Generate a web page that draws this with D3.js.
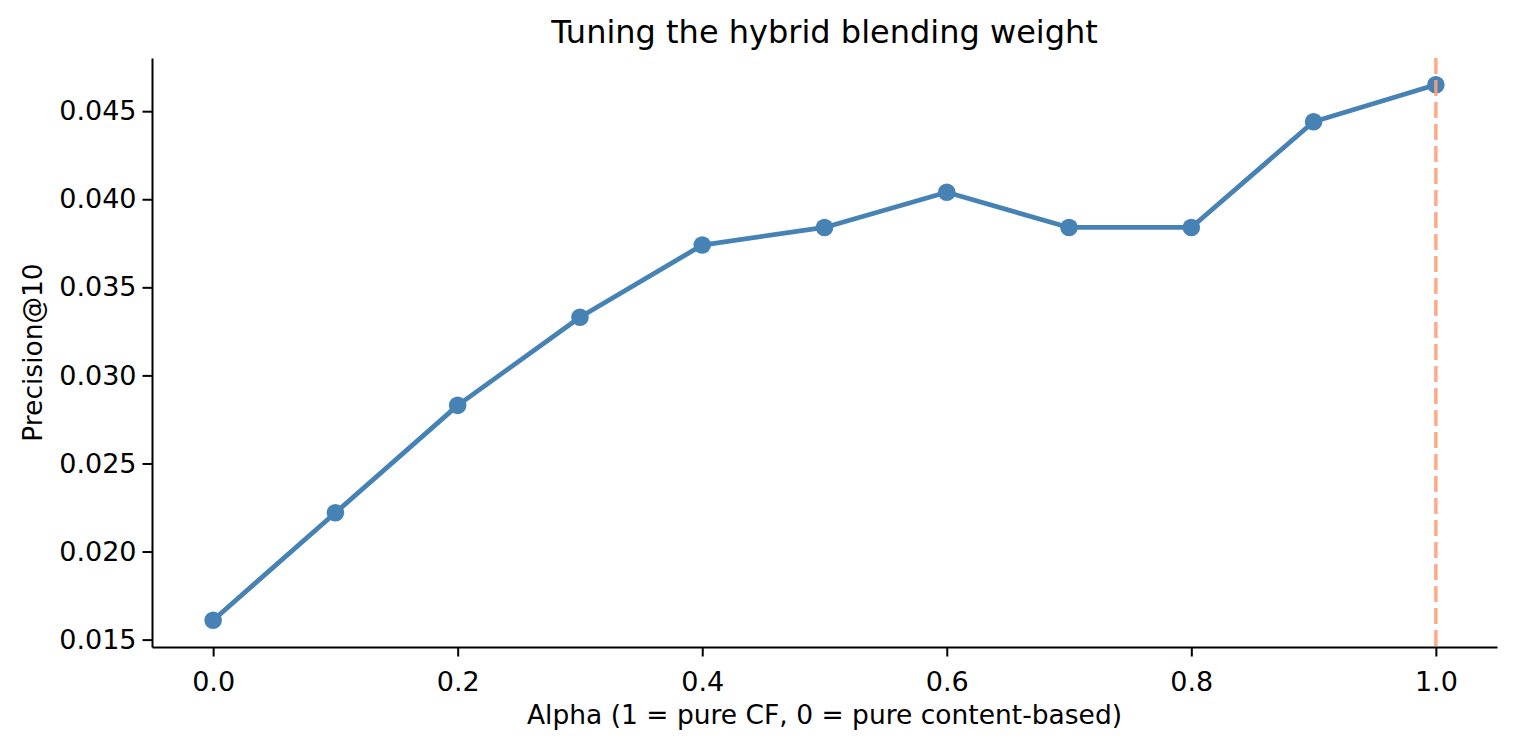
<!DOCTYPE html>
<html>
<head>
<meta charset="utf-8">
<script src="https://cdn.jsdelivr.net/npm/d3@7"></script>
<style>
  body { margin: 0; background: #fff; }
  svg { font-family: "DejaVu Sans", sans-serif; }
</style>
</head>
<body>
<div id="chart"></div>
<script>
// Precision@10 for each blending weight
const alphas = [0.0, 0.1, 0.2, 0.3, 0.4, 0.5, 0.6, 0.7, 0.8, 0.9, 1.0];
const precision = [0.0161, 0.0222, 0.0283, 0.0333, 0.0374, 0.0384, 0.0404, 0.0384, 0.0384, 0.0444, 0.0465];
const bestAlpha = 1.0;
const xTicks = [0.0, 0.2, 0.4, 0.6, 0.8, 1.0];
const yTicks = [0.015, 0.020, 0.025, 0.030, 0.035, 0.040, 0.045];

const width = 1516, height = 748;
const margin = { left: 152, right: 19, top: 58, bottom: 101 };

const svg = d3.select("#chart").append("svg")
              .attr("width", width)
              .attr("height", height);

const xPad = 0.05 * (d3.max(alphas) - d3.min(alphas));
const yPad = 0.05 * (d3.max(precision) - d3.min(precision));
const x = d3.scaleLinear()
            .domain([d3.min(alphas) - xPad, d3.max(alphas) + xPad])
            .range([margin.left, width - margin.right]);
const y = d3.scaleLinear()
            .domain([d3.min(precision) - yPad, d3.max(precision) + yPad])
            .range([height - margin.bottom, margin.top]);

// axes (left + bottom spines only)
const xAxis = svg.append("g")
   .attr("transform", `translate(0,${height - margin.bottom})`)
   .call(d3.axisBottom(x).tickValues(xTicks).tickFormat(d3.format(".1f"))
           .tickSizeInner(9.5).tickSizeOuter(0).tickPadding(15));
const yAxis = svg.append("g")
   .attr("transform", `translate(${margin.left},0)`)
   .call(d3.axisLeft(y).tickValues(yTicks).tickFormat(d3.format(".3f"))
           .tickSizeInner(9.5).tickSizeOuter(0).tickPadding(6));
[xAxis, yAxis].forEach(g => {
  g.selectAll("path, line").attr("stroke", "#000").attr("stroke-width", 2);
  g.selectAll("text").attr("font-size", 27).attr("fill", "#000").attr("font-family", "DejaVu Sans, sans-serif");
});

// series line + markers
svg.append("path")
   .datum(alphas.map((a, i) => [a, precision[i]]))
   .attr("d", d3.line().x(d => x(d[0])).y(d => y(d[1])))
   .attr("fill", "none")
   .attr("stroke", "#4682b4")
   .attr("stroke-width", 4.8)
   .attr("stroke-linejoin", "round");
svg.append("g")
   .selectAll("circle")
   .data(alphas)
   .enter()
   .append("circle")
   .attr("cx", d => x(d))
   .attr("cy", (d, i) => y(precision[i]))
   .attr("r", 8.8)
   .attr("fill", "#4682b4");

// best alpha marker
svg.append("line")
   .attr("x1", x(bestAlpha)).attr("x2", x(bestAlpha))
   .attr("y1", margin.top).attr("y2", height - margin.bottom)
   .attr("stroke", "#ffa07a")
   .attr("stroke-opacity", 0.9)
   .attr("stroke-width", 3.4)
   .attr("stroke-dasharray", "16,6");

// title and labels
svg.append("text")
   .attr("x", (margin.left + width - margin.right) / 2)
   .attr("y", 43)
   .attr("text-anchor", "middle")
   .attr("font-size", 32)
   .text("Tuning the hybrid blending weight");
svg.append("text")
   .attr("x", (margin.left + width - margin.right) / 2)
   .attr("y", 724)
   .attr("text-anchor", "middle")
   .attr("font-size", 26.5)
   .text("Alpha (1 = pure CF, 0 = pure content-based)");
svg.append("text")
   .attr("transform", `translate(42,${(margin.top + height - margin.bottom) / 2}) rotate(-90)`)
   .attr("text-anchor", "middle")
   .attr("font-size", 26.5)
   .text("Precision@10");
</script>
</body>
</html>
